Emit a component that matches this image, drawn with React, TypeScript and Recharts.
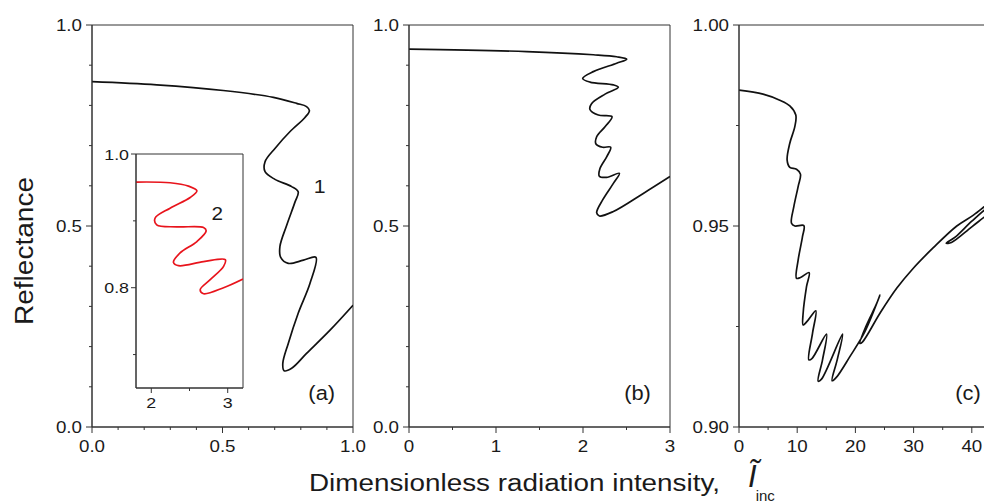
import React from 'react';
import { LineChart, Line, XAxis, YAxis, ReferenceArea } from 'recharts';

// ---------------- data ----------------
// Panel (a), curve 1
const curve1X = [0, 0.248, 0.503, 0.695, 0.784, 0.822, 0.833, 0.816, 0.759, 0.701, 0.663, 0.663, 0.701, 0.765, 0.79, 0.778, 0.746, 0.72, 0.723, 0.752, 0.81, 0.858, 0.835, 0.79, 0.752, 0.731, 0.736, 0.765, 0.822, 0.912, 1.0];
const curve1Y = [0.859, 0.851, 0.837, 0.82, 0.805, 0.797, 0.787, 0.77, 0.735, 0.693, 0.66, 0.635, 0.616, 0.598, 0.585, 0.56, 0.502, 0.449, 0.422, 0.407, 0.415, 0.422, 0.357, 0.283, 0.208, 0.158, 0.14, 0.146, 0.183, 0.241, 0.303];
// Inset, curve 2 (red)
const curve2X = [1.8, 2.246, 2.487, 2.597, 2.509, 2.246, 2.049, 2.071, 2.334, 2.684, 2.718, 2.597, 2.377, 2.29, 2.356, 2.684, 2.968, 2.946, 2.771, 2.64, 2.684, 2.946, 3.2];
const curve2Y = [0.958, 0.957, 0.952, 0.945, 0.935, 0.919, 0.904, 0.894, 0.891, 0.89, 0.885, 0.869, 0.852, 0.838, 0.833, 0.839, 0.842, 0.832, 0.812, 0.797, 0.791, 0.8, 0.813];
// Panel (b)
const curveBX = [0, 1.353, 2.119, 2.387, 2.502, 2.387, 2.119, 1.996, 2.08, 2.349, 2.406, 2.253, 2.1, 2.08, 2.176, 2.333, 2.253, 2.157, 2.149, 2.226, 2.318, 2.272, 2.195, 2.188, 2.272, 2.418, 2.349, 2.226, 2.157, 2.188, 2.349, 2.693, 3.0];
const curveBY = [0.94, 0.934, 0.926, 0.921, 0.915, 0.905, 0.884, 0.867, 0.858, 0.851, 0.845, 0.828, 0.805, 0.79, 0.776, 0.772, 0.747, 0.722, 0.704, 0.696, 0.696, 0.672, 0.643, 0.624, 0.621, 0.631, 0.606, 0.565, 0.533, 0.525, 0.536, 0.581, 0.623];
// Panel (c)
const curveCX = [0, 4.13, 7.0, 8.73, 9.76, 9.59, 8.73, 8.27, 8.73, 9.88, 10.56, 10.16, 9.42, 9.02, 9.59, 11.14, 10.9, 10.16, 9.88, 10.56, 12.05, 11.6, 11.02, 11.02, 11.88, 13.2, 12.63, 12.0, 12.57, 15.04, 14.35, 13.6, 14.18, 17.8, 16.87, 16.0, 16.76, 19.05, 21.63, 24.22, 23.53, 21.93, 20.77, 21.24, 24.22, 27.09, 29.95, 33.39, 37.42, 40.28, 43.44, 46.5, 48.0, 46.5, 43.4, 40.0, 37.2, 35.6, 36.5, 40.0, 43.4, 47.0, 50.0];
const curveCY = [0.9838, 0.9828, 0.9813, 0.9799, 0.9776, 0.9747, 0.9706, 0.9664, 0.9646, 0.9641, 0.9629, 0.9598, 0.9548, 0.9507, 0.95, 0.9501, 0.9473, 0.9415, 0.937, 0.9372, 0.9384, 0.9349, 0.9283, 0.9254, 0.9266, 0.9289, 0.9233, 0.9167, 0.9171, 0.9231, 0.9167, 0.9114, 0.9119, 0.9231, 0.9167, 0.9115, 0.9124, 0.9175, 0.9237, 0.9328, 0.9303, 0.9254, 0.9208, 0.9212, 0.9283, 0.9345, 0.9395, 0.9446, 0.95, 0.9527, 0.9562, 0.9588, 0.9597, 0.9579, 0.9554, 0.9512, 0.9473, 0.9457, 0.9459, 0.9498, 0.9536, 0.9572, 0.9598];

// ---------------- ticks ----------------
const aXMajor = [0, 0.5, 1];
const aXLabels = ['0.0', '0.5', '1.0'];
const aXMinor = [0.1, 0.2, 0.3, 0.4, 0.6, 0.7, 0.8, 0.9];
const aYMajor = [0, 0.5, 1];
const aYLabels = ['0.0', '0.5', '1.0'];
const aYMinor = [0.1, 0.2, 0.3, 0.4, 0.6, 0.7, 0.8, 0.9];
const bXMajor = [0, 1, 2, 3];
const bXLabels = ['0', '1', '2', '3'];
const bXMinor = [0.5, 1.5, 2.5];
const cXMajor = [0, 10, 20, 30, 40];
const cXLabels = ['0', '10', '20', '30', '40'];
const cXMinor = [5, 15, 25, 35, 45];
const cYMajor = [0.9, 0.95, 1.0];
const cYLabels = ['0.90', '0.95', '1.00'];
const cYMinor = [0.925, 0.975];
const insXMajor = [2, 3];
const insXLabels = ['2', '3'];
const insXMinor = [2.5];
const insYMajor = [0.8, 1.0];
const insYLabels = ['0.8', '1.0'];
const insYMinor = [0.7, 0.9];

const zip = (xs: number[], ys: number[]) => xs.map((x, i) => ({ x, y: ys[i] }));
const data1 = zip(curve1X, curve1Y);
const data2 = zip(curve2X, curve2Y);
const dataB = zip(curveBX, curveBY);
const dataC = zip(curveCX, curveCY);

// ---------------- style ----------------
const FONT = '"Liberation Sans", Arial, Helvetica, sans-serif';
const AX = '#333';
const TXT = '#1a1a1a';
const SX = 1.15;

// centripetal Catmull-Rom curve (passes through points, handles folds)
function catmullRom(context: any) {
  let pts: number[][] = [];
  return {
    areaStart() {},
    areaEnd() {},
    lineStart() { pts = []; },
    point(x: number, y: number) { pts.push([+x, +y]); },
    lineEnd() {
      const n = pts.length;
      if (!n) return;
      context.moveTo(pts[0][0], pts[0][1]);
      const d = (a: number[], b: number[]) => Math.hypot(a[0] - b[0], a[1] - b[1]);
      for (let i = 0; i < n - 1; i++) {
        const p1 = pts[i], p2 = pts[i + 1];
        const p0 = i > 0 ? pts[i - 1] : null;
        const p3 = i + 2 < n ? pts[i + 2] : null;
        const d12 = d(p1, p2), l12 = Math.sqrt(d12);
        let c1 = [p1[0], p1[1]];
        let c2 = [p2[0], p2[1]];
        if (p0) {
          const d01 = d(p0, p1), l01 = Math.sqrt(d01);
          if (l01 > 1e-9) {
            const a = 2 * d01 + 3 * l01 * l12 + d12;
            const nn = 3 * l01 * (l01 + l12);
            c1 = [(p1[0] * a - p0[0] * d12 + p2[0] * d01) / nn, (p1[1] * a - p0[1] * d12 + p2[1] * d01) / nn];
          }
        }
        if (p3) {
          const d23 = d(p2, p3), l23 = Math.sqrt(d23);
          if (l23 > 1e-9) {
            const b = 2 * d23 + 3 * l23 * l12 + d12;
            const m = 3 * l23 * (l23 + l12);
            c2 = [(p2[0] * b + p1[0] * d23 - p3[0] * d12) / m, (p2[1] * b + p1[1] * d23 - p3[1] * d12) / m];
          }
        }
        context.bezierCurveTo(c1[0], c1[1], c2[0], c2[1], p2[0], p2[1]);
      }
    },
  };
}

type TickCfg = { major: number; minor: number; gap: number; fs: number };

function makeXTick(majors: number[], labels: string[], cfg: TickCfg) {
  return (props: any) => {
    const { x, y, payload } = props;
    const v = payload.value;
    const idx = majors.findIndex((m) => Math.abs(m - v) < 1e-9);
    const isMajor = idx >= 0;
    return (
      <g>
        <line x1={x} x2={x} y1={y} y2={y + (isMajor ? cfg.major : cfg.minor)} stroke={AX} strokeWidth={1} />
        {isMajor && (
          <text transform={`translate(${x},${y + cfg.gap}) scale(${SX},1)`} textAnchor="middle" fontSize={cfg.fs} fontFamily={FONT} fill={TXT}>
            {labels[idx]}
          </text>
        )}
      </g>
    );
  };
}

function makeYTick(majors: number[], labels: string[], cfg: TickCfg) {
  return (props: any) => {
    const { x, y, payload } = props;
    const v = payload.value;
    const idx = majors.findIndex((m) => Math.abs(m - v) < 1e-9);
    const isMajor = idx >= 0;
    return (
      <g>
        <line x1={x - (isMajor ? cfg.major : cfg.minor)} x2={x} y1={y} y2={y} stroke={AX} strokeWidth={1} />
        {isMajor && (
          <text transform={`translate(${x - cfg.gap},${y}) scale(${SX},1)`} dy="0.36em" textAnchor="end" fontSize={cfg.fs} fontFamily={FONT} fill={TXT}>
            {labels[idx]}
          </text>
        )}
      </g>
    );
  };
}

type PanelProps = {
  data: { x: number; y: number }[];
  left: number; top: number; plotW: number; plotH: number;
  xDomain: [number, number]; yDomain: [number, number];
  xTicks: number[]; yTicks: number[];
  xTick: any; yTick: any;
  color: string; yw: number; xh: number;
};

function Panel(p: PanelProps) {
  const mt = 10, mr = 20;
  return (
    <div style={{ position: 'absolute', left: p.left - p.yw, top: p.top - mt }}>
      <LineChart width={p.yw + p.plotW + mr} height={mt + p.plotH + p.xh} data={p.data} margin={{ top: mt, right: mr, left: 0, bottom: 0 }}>
        <XAxis dataKey="x" type="number" domain={p.xDomain} ticks={p.xTicks} interval={0} tickSize={0} tickMargin={0}
          tick={p.xTick} tickLine={false} axisLine={{ stroke: AX, strokeWidth: 1 }} height={p.xh} allowDataOverflow />
        <YAxis type="number" domain={p.yDomain} ticks={p.yTicks} interval={0} tickSize={0} tickMargin={0}
          tick={p.yTick} tickLine={false} axisLine={{ stroke: AX, strokeWidth: 1 }} width={p.yw} allowDataOverflow />
        <ReferenceArea x1={p.xDomain[0]} x2={p.xDomain[1]} y1={p.yDomain[0]} y2={p.yDomain[1]} fill="none" fillOpacity={0} stroke={AX} strokeWidth={1} ifOverflow="visible" />
        <Line dataKey="y" type={catmullRom as any} stroke={p.color} strokeWidth={1.7} dot={false} activeDot={false} isAnimationActive={false} />
      </LineChart>
    </div>
  );
}

const mainCfg: TickCfg = { major: 6, minor: 3, gap: 10, fs: 16.3 };
const mainXCfg: TickCfg = { major: 6, minor: 3, gap: 24.5, fs: 16.3 };
const insYCfg: TickCfg = { major: 5, minor: 3, gap: 7, fs: 15.5 };
const insXCfg: TickCfg = { major: 5, minor: 3, gap: 20, fs: 15.5 };

function STxt(props: { x: number; y: number; fs: number; children: React.ReactNode; sx?: number }) {
  return (
    <text transform={`translate(${props.x},${props.y}) scale(${props.sx ?? 1.12},1)`} textAnchor="middle" fontSize={props.fs} fontFamily={FONT} fill={TXT}>
      {props.children}
    </text>
  );
}

export default function App() {
  return (
    <div style={{ position: 'relative', width: 984, height: 496, overflow: 'hidden', background: '#fff' }}>
      <Panel data={data1} left={84} top={17} plotW={261} plotH={402} xDomain={[0, 1]} yDomain={[0, 1]}
        xTicks={[...aXMajor, ...aXMinor]} yTicks={[...aYMajor, ...aYMinor]}
        xTick={makeXTick(aXMajor, aXLabels, mainXCfg)} yTick={makeYTick(aYMajor, aYLabels, mainCfg)}
        color="#111" yw={60} xh={45} />
      <Panel data={data2} left={128} top={146} plotW={107} plotH={234} xDomain={[1.8, 3.2]} yDomain={[0.65, 1.0]}
        xTicks={[...insXMajor, ...insXMinor]} yTicks={[...insYMajor, ...insYMinor]}
        xTick={makeXTick(insXMajor, insXLabels, insXCfg)} yTick={makeYTick(insYMajor, insYLabels, insYCfg)}
        color="#e8141c" yw={40} xh={30} />
      <Panel data={dataB} left={401} top={17} plotW={261} plotH={402} xDomain={[0, 3]} yDomain={[0, 1]}
        xTicks={[...bXMajor, ...bXMinor]} yTicks={[...aYMajor, ...aYMinor]}
        xTick={makeXTick(bXMajor, bXLabels, mainXCfg)} yTick={makeYTick(aYMajor, aYLabels, mainCfg)}
        color="#111" yw={60} xh={45} />
      <Panel data={dataC} left={731} top={17} plotW={291} plotH={402} xDomain={[0, 50]} yDomain={[0.9, 1.0]}
        xTicks={[...cXMajor, ...cXMinor]} yTicks={[...cYMajor, ...cYMinor]}
        xTick={makeXTick(cXMajor, cXLabels, mainXCfg)} yTick={makeYTick(cYMajor, cYLabels, mainCfg)}
        color="#111" yw={60} xh={45} />
      <svg width={984} height={496} style={{ position: 'absolute', left: 0, top: 0, pointerEvents: 'none' }}>
        <text transform="translate(25.3,243) rotate(-90)" textAnchor="middle" fontSize={26} fontFamily={FONT} fill={TXT}
          textLength={148} lengthAdjust="spacingAndGlyphs">Reflectance</text>
        <text x={301} y={483.3} fontSize={23.3} fontFamily={FONT} fill={TXT} textLength={411} lengthAdjust="spacingAndGlyphs">
          Dimensionless radiation intensity,
        </text>
        <text x={740} y={479} fontFamily={FONT} fill={TXT}>
          <tspan fontSize={31} fontStyle="italic">{'\u0128'}</tspan>
          <tspan fontSize={15} dx={-1} dy={13.5}>inc</tspan>
        </text>
        <STxt x={313.7} y={391.5} fs={19.5}>(a)</STxt>
        <STxt x={629.5} y={392} fs={19.5}>(b)</STxt>
        <STxt x={960} y={391.5} fs={19.5}>(c)</STxt>
        <STxt x={311.7} y={185.3} fs={19}>1</STxt>
        <STxt x={209.2} y={212} fs={18.5}>2</STxt>
      </svg>
    </div>
  );
}
